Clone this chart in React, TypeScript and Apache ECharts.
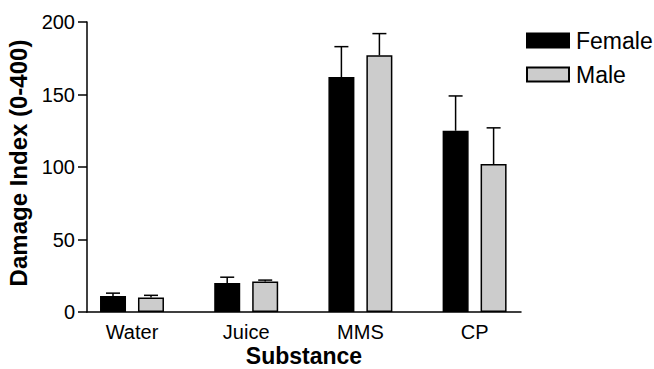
import React, { useEffect, useRef } from "react";
import * as echarts from "echarts";

const categories = ["Water", "Juice", "MMS", "CP"];
const femaleMean = [11, 20, 162, 125];
const femaleSE = [2, 4, 21, 24];
const maleMean = [10, 21, 177, 102];
const maleSE = [1.5, 1, 15, 25];
const yTicks = { min: 0, max: 200, interval: 50 };

const FONT = "'Liberation Sans', Arial, Helvetica, sans-serif";
const BAR_W = 26;
const BAR_OFF = 19;

function errorSeries(name: string, means: number[], ses: number[], dir: number) {
  return {
    type: "custom",
    name: name + " SE",
    xAxisIndex: 1,
    yAxisIndex: 1,
    z: 5,
    silent: true,
    data: means.map((m, i) => [i, m, m + ses[i]]),
    renderItem: (params: any, api: any) => {
      const base = api.coord([api.value(0), api.value(1)]);
      const top = api.coord([api.value(0), api.value(2)]);
      const x = base[0] + dir * BAR_OFF;
      const style = { stroke: "#000", lineWidth: 1.5 };
      return {
        type: "group",
        children: [
          { type: "line", shape: { x1: x, y1: base[1], x2: x, y2: top[1] }, style },
          { type: "line", shape: { x1: x - 7, y1: top[1], x2: x + 7, y2: top[1] }, style },
        ],
      };
    },
  };
}

export default function App() {
  const ref = useRef<HTMLDivElement>(null);
  useEffect(() => {
    const chart = echarts.init(ref.current!, null, { renderer: "svg" });
    const top = 22;
    const height = 290;
    chart.setOption({
      animation: false,
      backgroundColor: "#fff",
      textStyle: { fontFamily: FONT, color: "#000" },
      legend: {
        orient: "vertical",
        left: 526,
        top: 29,
        padding: 0,
        itemWidth: 42,
        itemHeight: 14,
        itemGap: 11,
        icon: "rect",
        data: ["Female", "Male"],
        textStyle: { fontSize: 23, color: "#000", fontFamily: FONT, padding: [0, 0, 0, 2] },
      },
      grid: [
        { left: 87, top, width: 434, height, containLabel: false, outerBoundsMode: "none" },
        { left: 74.9, top, width: 456.8, height, containLabel: false, outerBoundsMode: "none" },
      ],
      xAxis: [
        {
          gridIndex: 0,
          type: "value",
          min: 0,
          max: 1,
          axisLine: { show: true, lineStyle: { color: "#000", width: 1.5 } },
          axisTick: { show: false },
          axisLabel: { show: false },
          splitLine: { show: false },
          name: "Substance",
          nameLocation: "middle",
          nameGap: 32,
          nameTextStyle: { fontSize: 23, fontWeight: "bold", color: "#000", fontFamily: FONT, verticalAlign: "top" },
        },
        {
          gridIndex: 1,
          type: "category",
          data: categories,
          axisLine: { show: false },
          axisTick: { show: false },
          axisLabel: { fontSize: 20, color: "#000", margin: 10, fontFamily: FONT },
        },
      ],
      yAxis: [
        {
          gridIndex: 0,
          type: "value",
          min: yTicks.min,
          max: yTicks.max,
          interval: yTicks.interval,
          axisLine: { show: true, lineStyle: { color: "#000", width: 1.5 } },
          axisTick: { show: true, length: 9, lineStyle: { color: "#000", width: 1.5 } },
          axisLabel: { fontSize: 20, color: "#000", margin: 12, fontFamily: FONT },
          splitLine: { show: false },
          name: "Damage Index (0-400)",
          nameLocation: "middle",
          nameGap: 52,
          nameTextStyle: { fontSize: 24, fontWeight: "bold", color: "#000", fontFamily: FONT, padding: [0, 0, 0, 8] },
        },
        {
          gridIndex: 1,
          type: "value",
          min: yTicks.min,
          max: yTicks.max,
          interval: yTicks.interval,
          show: false,
        },
      ],
      series: [
        {
          type: "bar",
          name: "Female",
          xAxisIndex: 1,
          yAxisIndex: 1,
          data: femaleMean,
          barWidth: BAR_W,
          barGap: "46%",
          itemStyle: { color: "#000", borderColor: "#000", borderWidth: 1.5 },
        },
        {
          type: "bar",
          name: "Male",
          xAxisIndex: 1,
          yAxisIndex: 1,
          data: maleMean,
          barWidth: BAR_W,
          barGap: "46%",
          itemStyle: { color: "#cccccc", borderColor: "#000", borderWidth: 1.5 },
        },
        errorSeries("Female", femaleMean, femaleSE, -1),
        errorSeries("Male", maleMean, maleSE, 1),
      ],
    });
    return () => chart.dispose();
  }, []);
  return <div ref={ref} style={{ position: "fixed", left: 0, top: 0, width: 654, height: 369 }} />;
}
